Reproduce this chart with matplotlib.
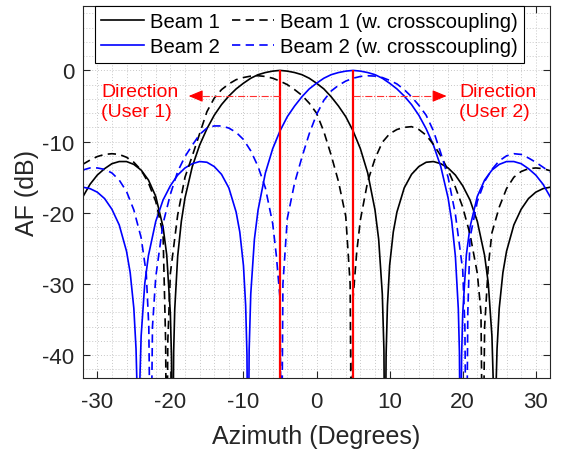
import numpy as np
import matplotlib.pyplot as plt
from matplotlib.ticker import MultipleLocator

plt.rcParams['font.family'] = ['Liberation Sans', 'DejaVu Sans']
plt.rcParams['axes.unicode_minus'] = False

# Array factor (dB) vs azimuth (deg); -60 marks the bottom of a null
az_b1 = [-32, -31, -30, -29, -28, -27, -26, -25, -24, -23, -22, -21,
         -20.5, -20, -19.85, -19.7, -19.55, -19.4, -19, -18.5,
         -18, -17, -16, -15, -14, -13, -12, -11, -10, -9, -8, -7, -6, -5,
         -4, -3, -2, -1, 0, 1, 2, 3, 4, 5, 6, 7, 8,
         8.5, 9, 9.22, 9.37, 9.52, 9.7, 10, 10.5,
         11, 12, 13, 14, 15, 16, 17, 18, 19, 20, 21, 22, 23,
         23.5, 24, 24.23, 24.38, 24.53, 24.7, 25, 25.5,
         26, 27, 28, 29, 30, 31, 32]
af_b1 = [-17.8, -16.0, -14.7, -13.8, -13.1, -12.8, -12.8, -13.2, -14.0, -15.4, -17.7, -22.0,
         -25.9, -34.2, -40.2, -60, -39.5, -33.5, -26.1, -21.2,
         -17.9, -13.5, -10.5, -8.2, -6.3, -4.8, -3.6, -2.6, -1.8, -1.1, -0.6, -0.3, -0.1, 0.0,
         -0.1, -0.3, -0.6, -1.1, -1.8, -2.6, -3.7, -5.0, -6.5, -8.5, -11.0, -14.4, -19.6,
         -23.7, -31.4, -39.2, -60, -39.9, -33.0, -27.4, -22.7,
         -19.9, -16.5, -14.6, -13.5, -12.9, -12.8, -13.1, -13.7, -14.7, -16.2, -18.2, -21.2, -26.0,
         -29.9, -37.3, -45.4, -60, -45.7, -39.1, -33.4, -28.4,
         -25.4, -21.7, -19.5, -18.0, -17.1, -16.6, -16.4]

az_b2 = [-32, -31, -30, -29, -28, -27, -26,
         -25.5, -25, -24.7, -24.53, -24.38, -24.23, -24, -23.5,
         -23, -22, -21, -20, -19, -18, -17, -16, -15, -14, -13, -12, -11,
         -10.5, -10, -9.7, -9.52, -9.37, -9.22, -9, -8.5,
         -8, -7, -6, -5, -4, -3, -2, -1, 0, 1, 2, 3, 4, 5, 6, 7, 8, 9, 10,
         11, 12, 13, 14, 15, 16, 17, 18,
         18.5, 19, 19.4, 19.55, 19.7, 19.85, 20, 20.5,
         21, 22, 23, 24, 25, 26, 27, 28, 29, 30, 31, 32]
af_b2 = [-16.4, -16.6, -17.1, -18.0, -19.5, -21.7, -25.4,
         -28.4, -33.4, -39.1, -45.7, -60, -45.4, -37.3, -29.9,
         -26.0, -21.2, -18.2, -16.2, -14.7, -13.7, -13.1, -12.8, -12.9, -13.5, -14.6, -16.5, -19.9,
         -22.7, -27.4, -33.0, -39.9, -60, -39.2, -31.4, -23.7,
         -19.6, -14.4, -11.0, -8.5, -6.5, -5.0, -3.7, -2.6, -1.8, -1.1, -0.6, -0.3, -0.1, 0.0, -0.1, -0.3, -0.6, -1.1, -1.8,
         -2.6, -3.6, -4.8, -6.3, -8.2, -10.5, -13.5, -17.9,
         -21.2, -26.1, -33.5, -39.5, -60, -40.2, -34.2, -25.9,
         -22.0, -17.7, -15.4, -14.0, -13.2, -12.8, -12.8, -13.1, -13.8, -14.7, -16.0, -17.8]

az_b1_cc = [-32, -31, -30, -29, -28, -27, -26, -25, -24, -23, -22, -21,
            -20.65, -20.5, -20.35, -20,
            -19, -18, -17, -16, -15, -14, -13, -12, -11, -10, -9, -8, -7, -6, -5,
            -4, -3, -2, -1, 0, 1, 2, 3, 4,
            4.6, 4.8, 5.0, 5.5, 6, 7, 8, 9, 10, 11, 12, 13, 14,
            15, 16, 17, 18, 19, 20, 21, 22,
            22.5, 22.75, 23.0, 23.5,
            24, 25, 26, 27, 28, 29, 30, 31, 32]
af_b1_cc = [-13.2, -12.6, -12.1, -11.8, -11.7, -11.8, -12.2, -12.9, -14.0, -15.8, -18.4, -23.0,
            -38.0, -60, -38.0, -28.5,
            -20.3, -15.0, -12.0, -8.9, -5.8, -3.9, -2.7, -1.9, -1.3, -1.0, -0.8, -0.75, -0.85, -1.1, -1.5,
            -2.0, -2.7, -3.5, -4.6, -6.0, -8.6, -11.9, -15.6, -20.5,
            -30.0, -60, -32.0, -25.5, -21.0, -15.6, -12.4, -10.1, -8.9, -8.3, -8.0, -7.9, -8.3,
            -9.1, -10.4, -12.0, -14.0, -16.4, -19.2, -23.0, -28.5,
            -34.0, -60, -36.0, -27.5,
            -22.8, -19.2, -16.6, -15.0, -14.2, -13.8, -13.7, -13.8, -14.1]

az_b2_cc = [-32, -31, -30, -29, -28, -27, -26, -25, -24, -23.3,
            -22.95, -22.7, -22.45, -22, -21, -20,
            -19, -18, -17, -16, -15, -14, -13, -12, -11, -10, -9, -8, -7, -6, -5.5,
            -5.0, -4.8, -4.6, -4, -3, -2, -1, 0, 1, 2, 3, 4, 5, 6, 7, 8, 9, 10, 11, 12, 13, 14,
            15, 16, 17, 18, 19, 20,
            20.3, 20.5, 20.7, 21, 22, 23, 24, 25, 26, 27, 28, 29, 30, 31, 32]
af_b2_cc = [-14.0, -13.7, -13.7, -13.9, -14.4, -15.4, -17.0, -19.6, -23.5, -28.5,
            -36.0, -60, -36.0, -29.0, -21.5, -17.4,
            -14.2, -12.1, -10.5, -9.0, -8.1, -7.8, -7.8, -8.1, -8.7, -9.7, -11.3, -13.5, -16.5, -21.5, -26.0,
            -32.0, -60, -30.0, -20.8, -15.8, -12.2, -8.9, -6.2, -4.2, -2.9, -2.1, -1.5, -1.1, -0.85, -0.75, -0.8, -1.0, -1.4, -1.9, -2.7, -3.7, -4.9,
            -6.3, -8.5, -11.6, -15.0, -20.2, -28.0,
            -36.0, -60, -34.0, -23.5, -18.4, -15.6, -13.9, -12.7, -12.0, -11.7, -11.8, -12.3, -12.9, -13.6, -14.3]

user_dirs = [-5, 5]
arrow_ends = [-17.5, 17.8]
arrow_level = -3.6
dir_labels = ['Direction\n(User 1)', 'Direction\n(User 2)']
label_x = [-29.5, 19.55]

fig = plt.figure(figsize=(5.69, 4.52), dpi=100)
ax = fig.add_axes([0.1453, 0.1615, 0.822, 0.8223])

lw = 1.2
dash = (5, 3.2)
ax.plot(az_b1, af_b1, color='k', lw=lw, label='Beam 1')
ax.plot(az_b2, af_b2, color='#0000ff', lw=lw, label='Beam 2')
ax.plot(az_b1_cc, af_b1_cc, color='k', lw=lw, dashes=dash, label='Beam 1 (w. crosscoupling)')
ax.plot(az_b2_cc, af_b2_cc, color='#0000ff', lw=lw, dashes=dash, label='Beam 2 (w. crosscoupling)')

# user directions and arrows
ax.vlines(user_dirs, -60, 0, colors='r', lw=1.6, zorder=5)
for x0, x1, txt, tx in zip(user_dirs, arrow_ends, dir_labels, label_x):
    step = np.sign(x1 - x0) * 1.2
    ax.plot([x0, x1 - step], [arrow_level, arrow_level], color='#ff3030', lw=0.8,
            linestyle='-.', zorder=5)
    ax.annotate('', xy=(x1, arrow_level), xytext=(x1 - step, arrow_level),
                arrowprops=dict(arrowstyle='-|>,head_length=0.48,head_width=0.2',
                                color='r', lw=0.8, mutation_scale=18, shrinkA=0, shrinkB=0),
                zorder=6)
    ax.text(tx, -4.4, txt, color='r', fontsize=14, ha='left', va='center',
            multialignment='left')

ax.set_xlim(-32, 32)
ax.set_ylim(-43.2, 9)
ax.xaxis.set_major_locator(MultipleLocator(10))
ax.yaxis.set_major_locator(MultipleLocator(10))
ax.xaxis.set_minor_locator(MultipleLocator(2))
ax.yaxis.set_minor_locator(MultipleLocator(2))
ax.grid(which='both', color='#c8c8c8', lw=0.7, linestyle=(0, (1, 2)))
ax.set_axisbelow(True)

ax.tick_params(which='major', direction='in', length=5, width=0.8, color='#262626',
               labelsize=16, labelcolor='#262626', top=True, right=True)
ax.tick_params(which='minor', length=0, top=True, right=True)
ax.tick_params(axis='x', pad=9)
ax.tick_params(axis='y', pad=6)
for s in ax.spines.values():
    s.set_color('#262626')
    s.set_linewidth(0.8)

ax.set_xlabel('Azimuth (Degrees)', fontsize=18, color='#262626', labelpad=9)
ax.set_ylabel('AF (dB)', fontsize=18, color='#262626', labelpad=2)

leg = ax.legend(ncol=2, loc='upper left', bbox_to_anchor=(0.026, 1.0), borderaxespad=0,
                fontsize=14.6, handlelength=2.1, handletextpad=0.3, columnspacing=0.6,
                borderpad=0.3, labelspacing=0.3, fancybox=False, framealpha=1,
                edgecolor='k')
leg.get_frame().set_linewidth(0.8)

fig.savefig('out.png', dpi=100)
